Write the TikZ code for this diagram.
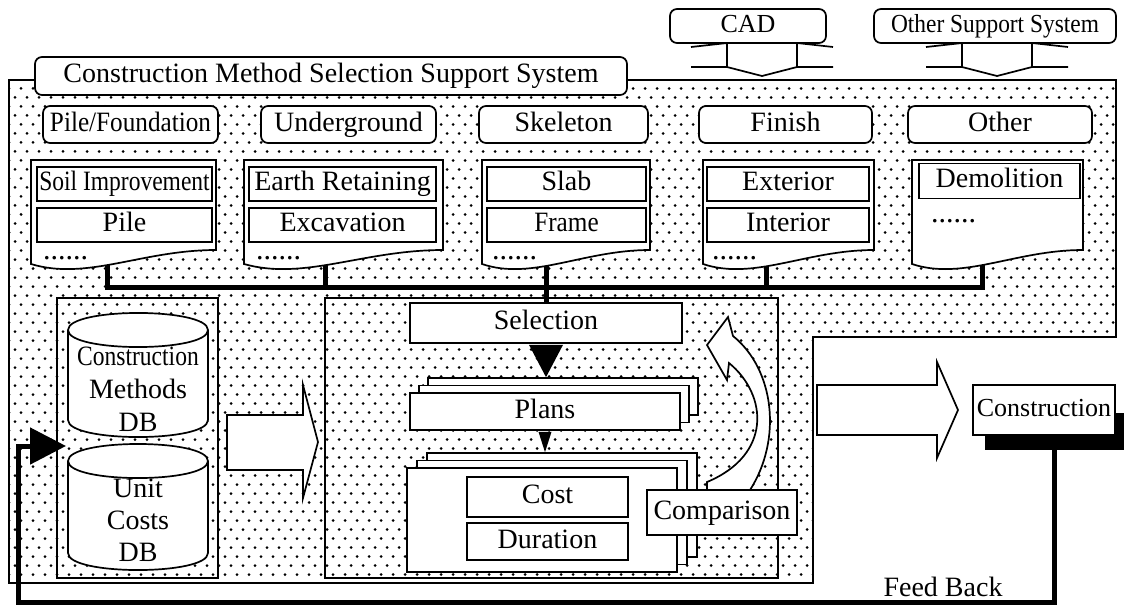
\documentclass[tikz,border=0pt]{standalone}
\usepackage{fontspec}
\setmainfont{Liberation Serif}
\newfontfamily\tightserif[FakeStretch=0.84]{Liberation Serif}
\newfontfamily\narrowserif[FakeStretch=0.9]{Liberation Serif}
\usetikzlibrary{arrows.meta,patterns}

\pgfdeclarepatternformonly{stipple}{\pgfqpoint{-1pt}{-1pt}}{\pgfqpoint{13pt}{19pt}}{\pgfqpoint{12pt}{18pt}}{%
  \pgfpathcircle{\pgfqpoint{3pt}{4.5pt}}{1.5pt}%
  \pgfpathcircle{\pgfqpoint{9pt}{13.5pt}}{1.5pt}%
  \pgfusepath{fill}}

\begin{document}
\begin{tikzpicture}[x=1pt, y=-1pt,
  every node/.style={font=\fontsize{28}{30}\selectfont, inner sep=0pt},
  tab/.style={draw, line width=1.7pt, fill=white, rounded corners=7pt, text height=19pt, text depth=6pt},
  item/.style={draw, line width=1.7pt, fill=white, text height=19pt, text depth=6pt},
  sheet/.style={draw, line width=1.7pt, fill=white},
  outline/.style={draw, line width=1.7pt},
  etc/.style={anchor=base west, font=\fontsize{30}{30}\selectfont, text height=4pt, text depth=0pt},
  bus/.style={line width=5pt},
  feedback/.style={line width=5pt, -{Triangle[length=36pt, width=36pt]}}]
\useasboundingbox (0,0) rectangle (1126,606);
\fill[white] (0,0) rectangle (1126,606);

% dotted area of the support system
\draw[line width=1.8pt, pattern=stipple] (9,80) -- (1116,80) -- (1116,337) -- (813,337) -- (813,583) -- (9,583) -- cycle;

% CAD and other systems feeding in
\draw[sheet] (727,43) -- (797,43) -- (797,67) -- (762,76) -- (727,67) -- cycle;
\draw[line width=1.7pt] (691,47) -- (727,43) (797,43) -- (833,47) (691,67) -- (727,67) (797,67) -- (833,67);
\draw[sheet] (962,43) -- (1032,43) -- (1032,67) -- (997,76) -- (962,67) -- cycle;
\draw[line width=1.7pt] (926,47) -- (962,43) (1032,43) -- (1068,47) (926,67) -- (962,67) (1032,67) -- (1068,67);
\node[tab, minimum width=156pt, minimum height=34pt, font=\fontsize{26}{28}\selectfont] (cad) at (748,26) {CAD};
\node[tab, minimum width=242pt, minimum height=34pt, font=\fontsize{26}{28}\narrowserif] (othersys) at (995,26) {Other Support System};

\node[tab, minimum width=592pt, minimum height=38pt] (title) at (331,76) {Construction Method Selection Support System};

% work categories
\node[tab, minimum width=175pt, minimum height=37pt, font=\fontsize{28}{30}\narrowserif] (pilefound) at (130.5,124.5) {Pile/Foundation};
\node[tab, minimum width=175pt, minimum height=37pt] (underground) at (348.5,124.5) {Underground};
\node[tab, minimum width=169pt, minimum height=37pt] (skeleton) at (563.5,124.5) {Skeleton};
\node[tab, minimum width=173pt, minimum height=37pt] (finish) at (785.5,124.5) {Finish};
\node[tab, minimum width=184pt, minimum height=37pt] (other) at (1000,124.5) {Other};

% bus from the method lists
\coordinate (s1) at (107,262);
\coordinate (s2) at (325,262);
\coordinate (s3) at (546,262);
\coordinate (s4) at (766,262);
\coordinate (s5) at (982,262);
\coordinate (busL) at (107,287);
\coordinate (busR) at (982,287);
\draw[bus] (s1) |- (busR) -- (s5);
\draw[bus] (s2) -- (s2 |- busL);
\draw[bus] (s3) -- (s3 |- busL);
\draw[bus] (s4) -- (s4 |- busL);

% method lists
\draw[sheet] (31,160) -- (216,160) -- (216,250) .. controls (142,250) and (87,281) .. (31,264) -- cycle;
\draw[sheet] (244,160) -- (443,160) -- (443,250) .. controls (363,250) and (304,281) .. (244,264) -- cycle;
\draw[sheet] (482,160) -- (650,160) -- (650,250) .. controls (583,250) and (532,281) .. (482,264) -- cycle;
\draw[sheet] (703,160) -- (874,160) -- (874,250) .. controls (806,250) and (754,281) .. (703,264) -- cycle;
\draw[sheet] (912,160) -- (1083,160) -- (1083,250) .. controls (1015,250) and (963,281) .. (912,264) -- cycle;

\node[item, minimum width=175pt, minimum height=34pt, font=\fontsize{28}{30}\tightserif] (soil) at (124.5,184) {Soil Improvement};
\node[item, minimum width=175pt, minimum height=34pt] (pile) at (124.5,225) {Pile};
\node[etc] (more1) at (43,259) {......};
\node[item, minimum width=187pt, minimum height=34pt] (earth) at (342.5,184) {Earth Retaining};
\node[item, minimum width=187pt, minimum height=34pt] (excav) at (342.5,225) {Excavation};
\node[etc] (more2) at (256,259) {......};
\node[item, minimum width=159pt, minimum height=34pt] (slab) at (566.5,184) {Slab};
\node[item, minimum width=159pt, minimum height=34pt, font=\fontsize{28}{30}\narrowserif] (frame) at (566.5,225) {Frame};
\node[etc] (more3) at (492,259) {......};
\node[item, minimum width=162pt, minimum height=34pt] (exterior) at (788,184) {Exterior};
\node[item, minimum width=162pt, minimum height=34pt] (interior) at (788,225) {Interior};
\node[etc] (more4) at (712,259) {......};
\node[item, minimum width=161pt, minimum height=35pt] (demolition) at (999.5,181) {Demolition};
\node[etc] (more5) at (931,222) {......};

% data bases
\node[outline, minimum width=161pt, minimum height=280pt] (dbbox) at (137.5,438) {};
\draw[sheet] (68,330) -- (68,420) .. controls (68,442.7) and (208,442.7) .. (208,420) -- (208,330) .. controls (208,307.3) and (68,307.3) .. (68,330) -- cycle;
\draw[line width=1.7pt] (68,330) .. controls (68,352.7) and (208,352.7) .. (208,330);
\node[align=center, font=\fontsize{28}{33}\selectfont] (cmdb) at (138,389) {{\tightserif Construction}\\Methods\\DB};
\draw[sheet] (68,461) -- (68,553) .. controls (68,575.7) and (208,575.7) .. (208,553) -- (208,461) .. controls (208,438.3) and (68,438.3) .. (68,461) -- cycle;
\node[align=center, font=\fontsize{28}{32}\selectfont] (ucdb) at (138,520) {Unit\\Costs\\DB};
\draw[line width=1.7pt] (68,461) .. controls (68,483.7) and (208,483.7) .. (208,461);

\draw[sheet] (227,415) -- (303,415) -- (303,385) -- (318,442) -- (303,498) -- (303,470) -- (227,470) -- cycle;

% selection of plans
\node[outline, minimum width=453pt, minimum height=280pt] (selbox) at (551.5,438) {};
\node[item, minimum width=272pt, minimum height=40pt] (selection) at (546,323) {Selection};
\draw[bus] (s3 |- busL) -- (selection.north);

\node[sheet, minimum width=270pt, minimum height=37pt] (plans3) at (563,396.5) {};
\node[sheet, minimum width=270pt, minimum height=37pt] (plans2) at (554,404) {};
\node[item, minimum width=270pt, minimum height=37pt] (plans) at (545,411.5) {Plans};
\fill (selection.south) ++(-17,1) -- ++(34,0) -- (selection.south |- plans3.north) -- cycle;

\node[sheet, minimum width=270pt, minimum height=104pt] (result3) at (562,505) {};
\node[sheet, minimum width=270pt, minimum height=104pt] (result2) at (552,512.5) {};
\node[sheet, minimum width=270pt, minimum height=104pt] (result) at (542,520) {};
\fill (plans.south) ++(-6.5,1) -- ++(13,0) -- (plans.south |- result3.north) -- cycle;
\node[item, minimum width=161pt, minimum height=40pt] (cost) at (547.5,497) {Cost};
\node[item, minimum width=161pt, minimum height=37pt] (duration) at (547.5,541.5) {Duration};

\draw[sheet] (728,317) -- (707,345) -- (727,380) -- (729,363) .. controls (768,395) and (772,455) .. (707,482) -- (707,490) -- (750,490) .. controls (782,440) and (775,370) .. (733,336) -- cycle;
\node[item, minimum width=150pt, minimum height=45pt] (comparison) at (722,512.5) {Comparison};

% to construction and back
\draw[sheet] (817,385) -- (937,385) -- (937,362) -- (958,410) -- (937,458) -- (937,435) -- (817,435) -- cycle;
\node[fill=black, minimum width=139pt, minimum height=37pt] (shadow) at (1054.5,431.5) {};
\node[item, minimum width=142pt, minimum height=50pt, font=\fontsize{26}{28}\selectfont] (construction) at (1044,410) {Construction};

\coordinate (fbturn) at (18,602);
\coordinate (fbend) at (66,446);
\draw[feedback] (shadow.south) |- (fbturn) |- (fbend);
\node (feedlabel) at (943,587) {Feed Back};
\end{tikzpicture}
\end{document}
